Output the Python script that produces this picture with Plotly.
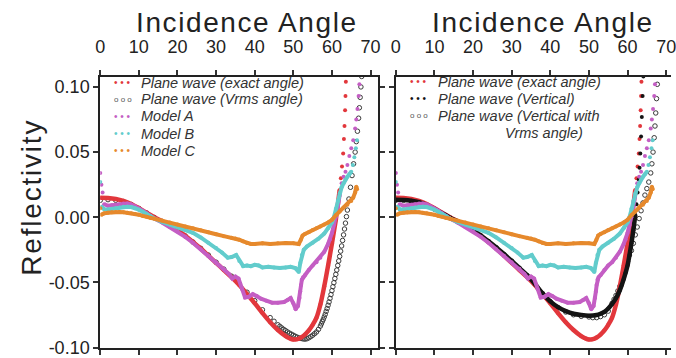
import plotly.graph_objects as go

# ---------------- data ----------------
x_tick_vals = [0, 10, 20, 30, 40, 50, 60, 70]
y_tick_vals = [-0.10, -0.05, 0.00, 0.05, 0.10]
y_tick_text = ["-0.10", "-0.05", "0.00", "0.05", "0.10"]

# Plane wave (exact angle) - same in both panels
ang_exact = [0, 2, 4, 6, 8, 10, 12, 14, 16, 18, 20, 22, 24, 26, 28, 30, 32, 34, 36, 38,
             40, 42, 44, 46, 48, 49, 50, 51, 52, 53, 54, 55, 56, 57, 58, 59, 60, 60.5, 61,
             61.5, 62, 62.3, 62.6, 62.9, 63.1, 63.25, 63.4, 63.5, 63.6, 63.7]
val_exact = [0.0150, 0.0148, 0.0140, 0.0125, 0.0102, 0.0070, 0.0035, 0.0000, -0.0030, -0.0062,
             -0.0098, -0.0142, -0.0190, -0.0240, -0.0295, -0.0350, -0.0405, -0.0460, -0.0520, -0.0590,
             -0.0660, -0.0735, -0.0805, -0.0865, -0.0912, -0.0928, -0.0938, -0.0935, -0.0922,
             -0.0900, -0.0868, -0.0825, -0.0770, -0.0670, -0.0530, -0.0370, -0.0200, -0.0110,
             -0.0020, 0.0090, 0.0210, 0.0300, 0.0390, 0.0490, 0.0600, 0.0700, 0.0820, 0.0930,
             0.1040, 0.1120]

# Plane wave (Vrms angle) - left panel, open circles
ang_vrms = [0, 2, 4, 6, 8, 10, 12, 14, 16, 18, 20, 22, 24, 26, 28, 30, 32, 34, 36, 38, 40, 42,
            44, 45, 46, 46.5, 47, 47.5, 48, 48.5, 49, 49.5, 50, 50.5, 51, 51.5, 52, 52.5, 53,
            53.5, 54, 54.5, 55, 55.5, 56, 56.5, 57, 57.25, 57.5, 57.75, 58, 58.25, 58.5,
            58.75, 59, 59.25, 59.5, 59.75, 60, 60.25, 60.5, 60.75, 61, 61.25, 61.5, 61.75, 62,
            62.25, 62.5, 62.75, 63, 63.25, 63.5, 63.75, 64, 64.4, 64.8, 65.2, 65.6, 66, 66.3,
            66.6, 66.9, 67.1, 67.3, 67.5, 67.7]
val_vrms = [0.0130, 0.0135, 0.0130, 0.0120, 0.0098, 0.0068, 0.0033, -0.0002, -0.0032, -0.0064,
            -0.0100, -0.0143, -0.0190, -0.0238, -0.0290, -0.0345, -0.0398, -0.0452, -0.0510,
            -0.0575, -0.0640, -0.0710, -0.0770, -0.0798, -0.0825, -0.0837, -0.0849, -0.0860,
            -0.0870, -0.0880, -0.0889, -0.0897, -0.0905, -0.0913, -0.0920, -0.0926, -0.0930,
            -0.0933, -0.0935, -0.0932, -0.0925, -0.0916, -0.0905, -0.0893, -0.0880, -0.0860,
            -0.0835, -0.0818, -0.0800, -0.0784, -0.0765, -0.0745, -0.0722, -0.0700, -0.0675,
            -0.0650, -0.0622, -0.0593, -0.0563, -0.0533, -0.0502, -0.0470, -0.0438, -0.0405,
            -0.0370, -0.0335, -0.0300, -0.0260, -0.0220, -0.0178, -0.0135, -0.0090, -0.0045,
            0.0005, 0.0055, 0.0140, 0.0230, 0.0320, 0.0410, 0.0500, 0.0580, 0.0660, 0.0760,
            0.0840, 0.0920, 0.1000, 0.1080]

# Plane wave (Vertical) - right panel, filled black
ang_vert = [0, 2, 4, 6, 8, 10, 12, 14, 16, 18, 20, 22, 24, 26, 28, 30, 32, 34, 36, 38, 40, 42,
            44, 46, 48, 50, 52, 53, 54, 55, 56, 57, 58, 58.5, 59, 59.5, 60, 60.5, 61, 61.5, 62,
            62.3, 62.6, 62.9, 63.1, 63.3, 63.5, 63.7, 63.9, 64.1]
val_vert = [0.0135, 0.0133, 0.0127, 0.0115, 0.0094, 0.0064, 0.0030, -0.0003, -0.0033, -0.0065,
            -0.0100, -0.0140, -0.0185, -0.0232, -0.0283, -0.0335, -0.0390, -0.0445, -0.0510,
            -0.0585, -0.0645, -0.0690, -0.0720, -0.0740, -0.0750, -0.0755, -0.0750, -0.0740,
            -0.0725, -0.0700, -0.0665, -0.0620, -0.0560, -0.0520, -0.0475, -0.0425, -0.0370,
            -0.0290, -0.0200, -0.0100, 0.0020, 0.0100, 0.0190, 0.0290, 0.0380, 0.0490, 0.0620,
            0.0770, 0.0930, 0.1080]

# Plane wave (Vertical with Vrms angle) - right panel, open circles
ang_vvrms = [0, 2, 4, 6, 8, 10, 12, 14, 16, 18, 20, 22, 24, 26, 28, 30, 32, 34, 36, 38, 40, 42,
             44, 46, 48, 50, 51, 52, 53, 54, 55, 56, 56.5, 57, 57.5, 58, 58.5, 59, 59.5, 60, 60.5,
             61, 61.5, 62, 62.5, 63, 63.5, 64, 64.5, 65, 65.5, 66, 66.3, 66.6, 66.9, 67.1, 67.3,
             67.5, 67.7, 67.85]
val_vvrms = [0.0130, 0.0130, 0.0125, 0.0113, 0.0092, 0.0062, 0.0029, -0.0004, -0.0034, -0.0066,
             -0.0101, -0.0141, -0.0186, -0.0233, -0.0284, -0.0336, -0.0391, -0.0447, -0.0512,
             -0.0585, -0.0648, -0.0695, -0.0727, -0.0748, -0.0760, -0.0765, -0.0770, -0.0770,
             -0.0762, -0.0748, -0.0720, -0.0660, -0.0630, -0.0600, -0.0565, -0.0530, -0.0490,
             -0.0440, -0.0390, -0.0340, -0.0290, -0.0255, -0.0200, -0.0135, -0.0075, -0.0010,
             0.0050, 0.0110, 0.0170, 0.0220, 0.0270, 0.0340, 0.0410, 0.0500, 0.0610, 0.0700,
             0.0800, 0.0910, 0.1020, 0.1100]

# Model A (same in both panels)
ang_A = [0, 0.3, 0.6, 1, 2, 3, 4, 5, 6, 7, 8, 9, 10, 11, 12, 13, 14, 16, 18, 20, 22, 24, 26, 28,
         30, 32, 33.3, 34.2, 35, 35.8, 36.7, 37.5, 38.5, 39.5, 40.5, 41.6, 43, 44.5, 46, 47.6,
         48.5, 49.3, 50, 50.6, 51.2, 51.6, 51.8, 52.0, 52.2, 52.5, 53, 54, 55, 56, 57, 58, 59,
         59.5, 60, 60.5, 61, 61.5, 62, 62.5, 63, 63.5, 64, 64.5, 65, 65.5, 66, 66.3, 66.6, 66.9,
         67.1, 67.3]
val_A = [0.034, 0.025, 0.019, 0.0100, 0.0088, 0.0092, 0.0095, 0.0100, 0.0105, 0.0105, 0.0098,
         0.0085, 0.0068, 0.0050, 0.0030, 0.0010, -0.0010, -0.0040, -0.0075, -0.0110, -0.0150,
         -0.0195, -0.0245, -0.0295, -0.0345, -0.0395, -0.0435, -0.0470, -0.0455, -0.0470,
         -0.0550, -0.0615, -0.0610, -0.0590, -0.0605, -0.0625, -0.0640, -0.0655, -0.0655,
         -0.0650, -0.0635, -0.0620, -0.0660, -0.0705, -0.0680, -0.0620, -0.0570, -0.0520,
         -0.0480, -0.0460, -0.0445, -0.0405, -0.0370, -0.0345, -0.0310, -0.0265, -0.0205,
         -0.0170, -0.0120, -0.0060, 0.0000, 0.0080, 0.0170, 0.0260, 0.0310, 0.0350, 0.0400,
         0.0470, 0.0530, 0.0590, 0.0680, 0.0750, 0.0830, 0.0930, 0.1020, 0.1110]

# Model B (same in both panels)
ang_B = [0, 0.4, 1, 2, 3, 4, 5, 6, 7, 8, 9, 10, 11, 12, 13, 14, 16, 18, 20, 22, 24, 26, 28, 30,
         31.5, 33, 34, 35.2, 36, 37, 38, 39, 40, 41, 42, 43.5, 45, 46.5, 48, 49.3, 50.5, 51.4,
         51.8, 52.2, 52.7, 53.5, 55, 56.5, 58, 59, 60, 60.5, 61, 61.5, 62, 62.5, 63, 63.5, 64,
         64.5, 65, 65.4, 65.8, 66.2, 66.5]
val_B = [0.027, 0.0080, 0.0062, 0.0060, 0.0065, 0.0070, 0.0075, 0.0080, 0.0080, 0.0078, 0.0070,
         0.0058, 0.0042, 0.0025, 0.0008, -0.0010, -0.0035, -0.0055, -0.0075, -0.0098, -0.0120,
         -0.0155, -0.0195, -0.0235, -0.0270, -0.0310, -0.0305, -0.0290, -0.0335, -0.0375,
         -0.0370, -0.0375, -0.0365, -0.0370, -0.0385, -0.0380, -0.0385, -0.0390, -0.0385,
         -0.0380, -0.0390, -0.0420, -0.0350, -0.0290, -0.0250, -0.0225, -0.0195, -0.0165,
         -0.0125, -0.0085, -0.0040, 0.0000, 0.0065, 0.0125, 0.0185, 0.0230, 0.0260, 0.0290,
         0.0310, 0.0330, 0.0350, 0.0400, 0.0460, 0.0530, 0.0590]

# Model C (same in both panels)
ang_C = [0, 0.3, 1, 2, 3, 4, 5, 6, 7, 8, 9, 10, 11, 12, 13, 14, 16, 18, 20, 22, 24, 26, 28, 30,
         32, 34, 35, 36, 37, 38, 39, 40, 42, 44, 46, 48, 50, 51.4, 51.9, 52.4, 53, 54, 55, 56,
         57, 58, 59, 60, 61, 62, 63, 64, 65, 65.5, 66, 66.3, 66.5]
val_C = [0.0070, 0.0020, 0.0030, 0.0035, 0.0038, 0.0040, 0.0040, 0.0038, 0.0035, 0.0030, 0.0025,
         0.0020, 0.0010, 0.0003, -0.0005, -0.0010, -0.0025, -0.0040, -0.0055, -0.0070, -0.0085,
         -0.0100, -0.0115, -0.0130, -0.0145, -0.0158, -0.0163, -0.0172, -0.0185, -0.0198,
         -0.0205, -0.0205, -0.0200, -0.0205, -0.0200, -0.0198, -0.0200, -0.0205, -0.0175,
         -0.0140, -0.0128, -0.0115, -0.0098, -0.0085, -0.0070, -0.0055, -0.0040, -0.0020,
         0.0015, 0.0045, 0.0075, 0.0095, 0.0125, 0.0150, 0.0190, 0.0235, 0.0215]

left_legend = ["Plane wave (exact angle)", "Plane wave (Vrms angle)", "Model A", "Model B", "Model C"]
right_legend = ["Plane wave (exact angle)", "Plane wave (Vertical)", "Plane wave (Vertical with"]
right_legend_extra = "Vrms angle)"

# ---------------- style ----------------
RED = "#e2373c"
BLACK = "#141414"
CIRC = "#3a3a3a"
MAG = "#c45ec4"
CYAN = "#62cccc"
ORANGE = "#e6892c"
FONT = "Liberation Sans, Arial, Helvetica, sans-serif"
TXT = "#222222"

W, H = 676, 358
MT, MB = 77, 8
PH = H - MT - MB

fig = go.Figure()


def add_series(xs, ys, color, xa, ya, lo, hi, lw, ms, shape="linear"):
    bx = [a for a in xs if lo <= a <= hi]
    by = [v for a, v in zip(xs, ys) if lo <= a <= hi]
    fig.add_trace(go.Scatter(x=bx, y=by, mode="lines", xaxis=xa, yaxis=ya,
                             line=dict(color=color, width=lw, shape=shape),
                             hoverinfo="skip", showlegend=False))
    fig.add_trace(go.Scatter(x=xs, y=ys, mode="markers", xaxis=xa, yaxis=ya,
                             marker=dict(color=color, size=ms),
                             hoverinfo="skip", showlegend=False))


def add_circles(xs, ys, xa, ya):
    fig.add_trace(go.Scatter(x=xs, y=ys, mode="markers", xaxis=xa, yaxis=ya,
                             marker=dict(symbol="circle-open", color=CIRC, size=4.5,
                                         line=dict(width=1, color=CIRC)),
                             hoverinfo="skip", showlegend=False))


# left panel
add_circles(ang_vrms, val_vrms, "x", "y")
add_series(ang_exact, val_exact, RED, "x", "y", 0, 62, 4.5, 4, "spline")
add_series(ang_A, val_A, MAG, "x", "y", 1, 62, 4, 4)
add_series(ang_B, val_B, CYAN, "x", "y", 0.4, 65, 4, 4)
add_series(ang_C, val_C, ORANGE, "x", "y", 0.3, 67, 4, 4)

# right panel
add_circles(ang_vvrms, val_vvrms, "x2", "y2")
add_series(ang_exact, val_exact, RED, "x2", "y2", 0, 62, 4.5, 4, "spline")
add_series(ang_vert, val_vert, BLACK, "x2", "y2", 0, 62, 4.5, 4, "spline")
add_series(ang_A, val_A, MAG, "x2", "y2", 1, 62, 4, 4)
add_series(ang_B, val_B, CYAN, "x2", "y2", 0.4, 65, 4, 4)
add_series(ang_C, val_C, ORANGE, "x2", "y2", 0.3, 67, 4, 4)

xcommon = dict(range=[0, 72], tickmode="array", tickvals=x_tick_vals, side="top",
               ticks="outside", ticklen=5, tickwidth=1.5, tickcolor="#333",
               showline=True, linewidth=2, linecolor="#222", mirror="ticks",
               showgrid=False, zeroline=False, ticklabelstandoff=10,
               ticklabeloverflow="allow",
               tickfont=dict(family=FONT, size=18, color=TXT))
ycommon = dict(range=[-0.1003, 0.1076], tickmode="array", tickvals=y_tick_vals,
               ticktext=y_tick_text, ticks="outside", ticklen=5, tickwidth=1.5,
               tickcolor="#333", showline=True, linewidth=2, linecolor="#222",
               showgrid=False, zeroline=False, ticklabeloverflow="allow",
               tickfont=dict(family=FONT, size=18, color=TXT))

L0, L1 = 96.7, 378.9
R0 = 396.7
fig.update_layout(
    width=W, height=H,
    margin=dict(l=0, r=0, t=MT, b=MB),
    paper_bgcolor="white", plot_bgcolor="white",
    xaxis=dict(domain=[L0 / W, L1 / W], anchor="y", **xcommon),
    yaxis=dict(domain=[0, 1], anchor="x", mirror="ticks", **ycommon),
    xaxis2=dict(domain=[R0 / W, 1.0], anchor="y2", **{**xcommon, "range": [0, (W - R0) / 3.92]}),
    yaxis2=dict(domain=[0, 1], anchor="x2", mirror=False, showticklabels=False, **ycommon),
    showlegend=False,
)


def px_x(px):
    return px / W


def px_y(py):
    return (H - MB - py) / PH


ann = []
for cx in (246, 546):
    ann.append(dict(x=px_x(cx), y=px_y(22), xref="paper", yref="paper",
                    text="<span style='letter-spacing:1.6px'>Incidence Angle</span>",
                    showarrow=False, xanchor="center", yanchor="middle",
                    font=dict(family=FONT, size=28, color=TXT)))
ann.append(dict(x=px_x(26), y=px_y(198), xref="paper", yref="paper",
                text="<span style='letter-spacing:1.8px'>Reflectivity</span>", textangle=-90,
                showarrow=False, xanchor="center", yanchor="middle",
                font=dict(family=FONT, size=28, color=TXT)))

LEG_FONT = dict(family=FONT, size=14.5, color="#333333")
left_rows = [83, 99.5, 116.5, 134, 151.5]
left_cols = [RED, None, MAG, CYAN, ORANGE]
for row, label, col in zip(left_rows, left_legend, left_cols):
    if col:
        glyph = "<span style='color:%s'>• • •</span>" % col
        gsize = 10
    else:
        glyph = "<span style='color:#555'>o o o</span>"
        gsize = 8
    ann.append(dict(x=px_x(109), y=px_y(row), xref="paper", yref="paper", text=glyph,
                    showarrow=False, xanchor="left", yanchor="middle",
                    font=dict(family=FONT, size=gsize)))
    ann.append(dict(x=px_x(136), y=px_y(row), xref="paper", yref="paper",
                    text="<i>%s</i>" % label, showarrow=False, xanchor="left",
                    yanchor="middle", font=LEG_FONT))

right_rows = [82, 99, 116]
right_cols = [RED, BLACK, None]
for row, label, col in zip(right_rows, right_legend, right_cols):
    if col:
        glyph = "<span style='color:%s'>• • •</span>" % col
        gsize = 10
    else:
        glyph = "<span style='color:#555'>o o o</span>"
        gsize = 8
    ann.append(dict(x=px_x(409), y=px_y(row), xref="paper", yref="paper", text=glyph,
                    showarrow=False, xanchor="left", yanchor="middle",
                    font=dict(family=FONT, size=gsize)))
    ann.append(dict(x=px_x(437), y=px_y(row), xref="paper", yref="paper",
                    text="<i>%s</i>" % label, showarrow=False, xanchor="left",
                    yanchor="middle", font=LEG_FONT))
ann.append(dict(x=px_x(589), y=px_y(133), xref="paper", yref="paper",
                text="<i>%s</i>" % right_legend_extra, showarrow=False, xanchor="right",
                yanchor="middle", font=LEG_FONT))

fig.update_layout(annotations=ann)
fig.write_html("out.html", config={"displayModeBar": False},
               post_script="document.body.style.margin='0';"
                           "document.body.style.padding='0';"
                           "document.body.style.overflow='hidden';")
